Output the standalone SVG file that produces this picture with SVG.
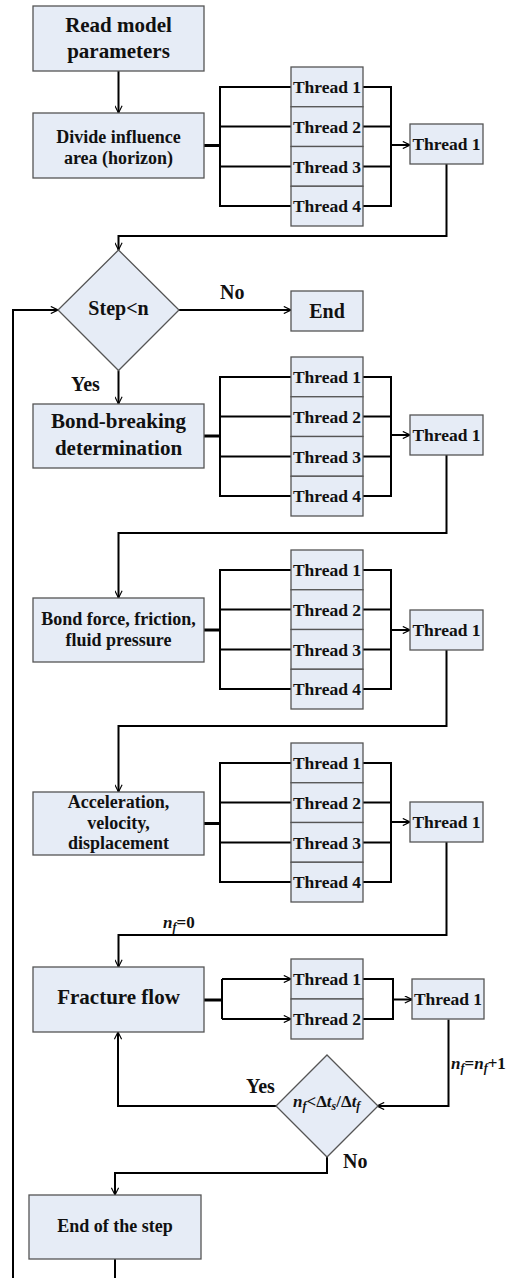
<svg xmlns="http://www.w3.org/2000/svg" width="507" height="1278" viewBox="0 0 507 1278">
<defs>
<marker id="arr" viewBox="0 0 10 10" refX="10" refY="5" markerWidth="8" markerHeight="8" markerUnits="userSpaceOnUse" orient="auto">
<path d="M1,0.5 L10,5 L1,9.5" fill="none" stroke="#000" stroke-width="1.4"/>
</marker>
<style>
.box{fill:#e6ecf6;stroke:#555;stroke-width:1.3}
.t{font-family:"Liberation Serif","Times New Roman",serif;font-weight:bold;fill:#111}
.c{text-anchor:middle}
.ln{fill:none;stroke:#000;stroke-width:2}
.stub{fill:none;stroke:#000;stroke-width:3}
.th{font-size:17.5px}
.i{font-style:italic}
</style>
</defs>
<rect width="507" height="1278" fill="#fff"/>

<g id="connectors">
<path class="ln" d="M118.5,71 V113" marker-end="url(#arr)"/>
<!-- section 1 -->
<path class="stub" d="M204,145.5 H220"/>
<path class="ln" d="M291,86.9 H220 V206.1 H291 M220,126.6 H291 M220,166.4 H291"/>
<path class="ln" d="M363,86.9 H391 V206.1 H363 M363,126.6 H391 M363,166.4 H391"/>
<path class="ln" d="M391,145 H410" marker-end="url(#arr)"/>
<path class="ln" d="M446.5,164 V236 H118.5 V250" marker-end="url(#arr)"/>
<!-- diamond -->
<path class="ln" d="M179,310 H291" marker-end="url(#arr)"/>
<path class="ln" d="M118.5,370.5 V404" marker-end="url(#arr)"/>
<path class="ln" d="M13,1278 V310 H58" marker-end="url(#arr)"/>
<!-- section 2 -->
<path class="stub" d="M204,436 H220"/>
<path class="ln" d="M291,376.9 H220 V496.1 H291 M220,416.6 H291 M220,456.4 H291"/>
<path class="ln" d="M363,376.9 H391 V496.1 H363 M363,416.6 H391 M363,456.4 H391"/>
<path class="ln" d="M391,435 H410" marker-end="url(#arr)"/>
<path class="ln" d="M446.5,455 V533 H118.5 V598" marker-end="url(#arr)"/>
<!-- section 3 -->
<path class="stub" d="M204,630 H220"/>
<path class="ln" d="M291,569.9 H220 V689.1 H291 M220,609.6 H291 M220,649.4 H291"/>
<path class="ln" d="M363,569.9 H391 V689.1 H363 M363,609.6 H391 M363,649.4 H391"/>
<path class="ln" d="M391,630 H410" marker-end="url(#arr)"/>
<path class="ln" d="M446.5,650 V726 H118.5 V792" marker-end="url(#arr)"/>
<!-- section 4 -->
<path class="stub" d="M204,823.5 H220"/>
<path class="ln" d="M291,762.9 H220 V882.1 H291 M220,802.6 H291 M220,842.4 H291"/>
<path class="ln" d="M363,762.9 H391 V882.1 H363 M363,802.6 H391 M363,842.4 H391"/>
<path class="ln" d="M391,822 H410" marker-end="url(#arr)"/>
<path class="ln" d="M446.5,842 V935 H118.5 V967" marker-end="url(#arr)"/>
<!-- fracture -->
<path class="stub" d="M204,1000 H222"/>
<path class="ln" d="M222,979 V1019"/>
<path class="ln" d="M222,979 H291" marker-end="url(#arr)"/>
<path class="ln" d="M222,1019 H291" marker-end="url(#arr)"/>
<path class="ln" d="M363,979 H393 V1019 H363"/>
<path class="ln" d="M393,999.5 H412" marker-end="url(#arr)"/>
<path class="ln" d="M448.5,1019.5 V1106 H377" marker-end="url(#arr)"/>
<path class="ln" d="M276,1106 H118 V1032" marker-end="url(#arr)"/>
<path class="ln" d="M327,1157 V1173 H115 V1195" marker-end="url(#arr)"/>
<path class="ln" d="M115,1259 V1278"/>
</g>

<g id="read"><rect class="box" x="33" y="6" width="171" height="65"/>
<text class="t c" x="118.5" y="32" font-size="21">Read model</text>
<text class="t c" x="118.5" y="58" font-size="21">parameters</text></g>

<g id="divide"><rect class="box" x="33" y="113" width="171" height="65"/>
<text class="t c" x="118.5" y="142.5" font-size="18">Divide influence</text>
<text class="t c" x="118.5" y="164" font-size="18">area (horizon)</text></g>

<g id="threads1">
<rect class="box" x="291" y="67" width="72" height="39.75"/><text class="t c th" x="327" y="93">Thread 1</text>
<rect class="box" x="291" y="106.75" width="72" height="39.75"/><text class="t c th" x="327" y="132.7">Thread 2</text>
<rect class="box" x="291" y="146.5" width="72" height="39.75"/><text class="t c th" x="327" y="172.5">Thread 3</text>
<rect class="box" x="291" y="186.25" width="72" height="39.75"/><text class="t c th" x="327" y="212.2">Thread 4</text>
</g>
<g id="join1"><rect class="box" x="410" y="124" width="73" height="40"/><text class="t c th" x="446.5" y="150">Thread 1</text></g>

<g id="step"><polygon class="box" points="118.5,250 179,310 118.5,370.5 58,310"/>
<text class="t c" x="118.5" y="315" font-size="20">Step&lt;n</text></g>
<text class="t" x="220" y="299" font-size="20">No</text>
<text class="t" x="71" y="391" font-size="20">Yes</text>
<g id="end"><rect class="box" x="291" y="291" width="72" height="40"/>
<text class="t c" x="327" y="318" font-size="20">End</text></g>

<g id="bondbreak"><rect class="box" x="33" y="404" width="171" height="64"/>
<text class="t c" x="118.5" y="428" font-size="21">Bond-breaking</text>
<text class="t c" x="118.5" y="455" font-size="21">determination</text></g>
<g id="threads2">
<rect class="box" x="291" y="357" width="72" height="39.75"/><text class="t c th" x="327" y="383">Thread 1</text>
<rect class="box" x="291" y="396.75" width="72" height="39.75"/><text class="t c th" x="327" y="422.7">Thread 2</text>
<rect class="box" x="291" y="436.5" width="72" height="39.75"/><text class="t c th" x="327" y="462.5">Thread 3</text>
<rect class="box" x="291" y="476.25" width="72" height="39.75"/><text class="t c th" x="327" y="502.2">Thread 4</text>
</g>
<g id="join2"><rect class="box" x="410" y="415" width="73" height="40"/><text class="t c th" x="446.5" y="441">Thread 1</text></g>

<g id="bondforce"><rect class="box" x="33" y="598" width="171" height="64"/>
<text class="t c" x="118.5" y="625" font-size="18">Bond force, friction,</text>
<text class="t c" x="118.5" y="646" font-size="18">fluid pressure</text></g>
<g id="threads3">
<rect class="box" x="291" y="550" width="72" height="39.75"/><text class="t c th" x="327" y="576">Thread 1</text>
<rect class="box" x="291" y="589.75" width="72" height="39.75"/><text class="t c th" x="327" y="615.7">Thread 2</text>
<rect class="box" x="291" y="629.5" width="72" height="39.75"/><text class="t c th" x="327" y="655.5">Thread 3</text>
<rect class="box" x="291" y="669.25" width="72" height="39.75"/><text class="t c th" x="327" y="695.2">Thread 4</text>
</g>
<g id="join3"><rect class="box" x="410" y="610" width="73" height="40"/><text class="t c th" x="446.5" y="636">Thread 1</text></g>

<g id="accel"><rect class="box" x="33" y="792" width="171" height="63"/>
<text class="t c" x="118.5" y="808" font-size="18">Acceleration,</text>
<text class="t c" x="118.5" y="829" font-size="18">velocity,</text>
<text class="t c" x="118.5" y="849" font-size="18">displacement</text></g>
<g id="threads4">
<rect class="box" x="291" y="743" width="72" height="39.75"/><text class="t c th" x="327" y="769">Thread 1</text>
<rect class="box" x="291" y="782.75" width="72" height="39.75"/><text class="t c th" x="327" y="808.7">Thread 2</text>
<rect class="box" x="291" y="822.5" width="72" height="39.75"/><text class="t c th" x="327" y="848.5">Thread 3</text>
<rect class="box" x="291" y="862.25" width="72" height="39.75"/><text class="t c th" x="327" y="888.2">Thread 4</text>
</g>
<g id="join4"><rect class="box" x="410" y="802" width="73" height="40"/><text class="t c th" x="446.5" y="828">Thread 1</text></g>

<text class="t" x="163" y="928" font-size="17"><tspan class="i">n</tspan><tspan class="i" font-size="12" dy="3">f</tspan><tspan dy="-3">=0</tspan></text>

<g id="fracture"><rect class="box" x="33" y="967" width="171" height="65"/>
<text class="t c" x="118.5" y="1004" font-size="21">Fracture flow</text></g>
<g id="threads5">
<rect class="box" x="291" y="959" width="72" height="40"/><text class="t c th" x="327" y="985">Thread 1</text>
<rect class="box" x="291" y="999" width="72" height="40"/><text class="t c th" x="327" y="1025">Thread 2</text>
</g>
<g id="join5"><rect class="box" x="412" y="979" width="72" height="40"/><text class="t c th" x="448" y="1005">Thread 1</text></g>

<text class="t" x="451" y="1069" font-size="17"><tspan class="i">n</tspan><tspan class="i" font-size="12" dy="3">f</tspan><tspan dy="-3">=</tspan><tspan class="i">n</tspan><tspan class="i" font-size="12" dy="3">f</tspan><tspan dy="-3">+1</tspan></text>

<g id="cond"><polygon class="box" points="327,1055 378,1106 327,1157 276,1106"/>
<text class="t" x="293" y="1107" font-size="17"><tspan class="i">n</tspan><tspan class="i" font-size="12" dy="3">f</tspan><tspan dy="-3">&lt;Δ</tspan><tspan class="i">t</tspan><tspan class="i" font-size="12" dy="3">s</tspan><tspan dy="-3">/Δ</tspan><tspan class="i">t</tspan><tspan class="i" font-size="12" dy="3">f</tspan></text></g>
<text class="t" x="246" y="1093" font-size="20">Yes</text>
<text class="t" x="343" y="1168" font-size="20">No</text>

<g id="endstep"><rect class="box" x="29" y="1195" width="172" height="64"/>
<text class="t c" x="115" y="1232" font-size="18">End of the step</text></g>
</svg>
